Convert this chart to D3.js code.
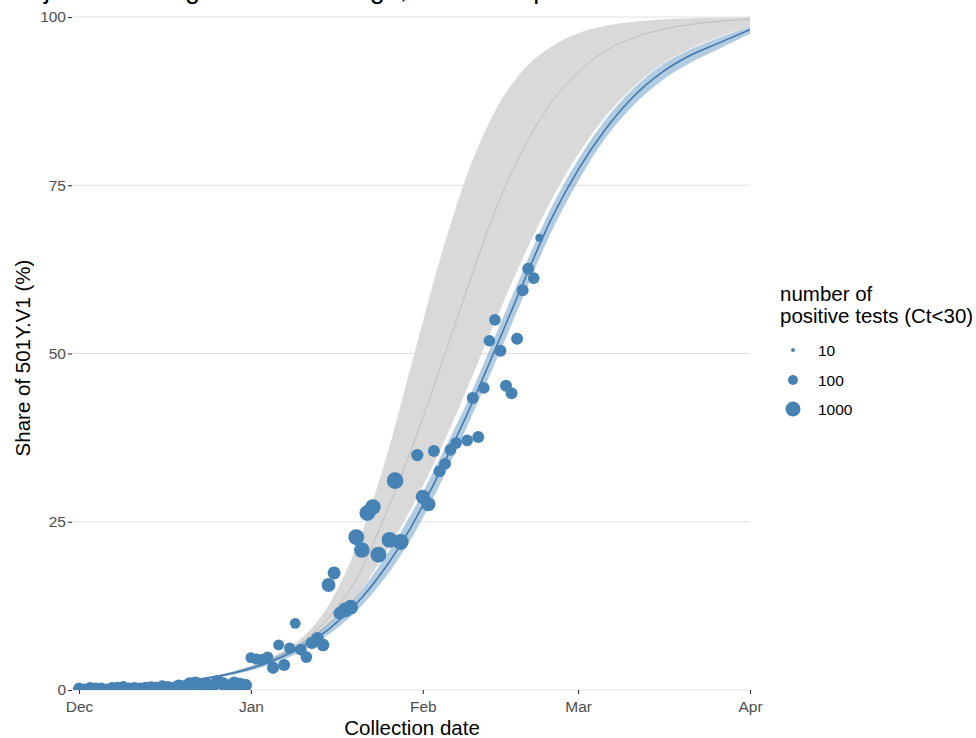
<!DOCTYPE html>
<html><head><meta charset="utf-8">
<script src="https://cdn.jsdelivr.net/npm/d3@7"></script>
<style>
body{margin:0;background:#fff;}
svg{display:block;font-family:"Liberation Sans", Arial, sans-serif;}
</style>
</head><body>
<svg id="chart" width="976" height="738"></svg>
<script>
// ---------- data ----------
const chartTitle = "Projection with growth advantage, based on positive tests with Ct<30";

const curveDates = ["2020-12-01","2020-12-11","2020-12-21","2020-12-31","2021-01-05","2021-01-10","2021-01-15","2021-01-20","2021-01-25","2021-01-30","2021-02-04","2021-02-09","2021-02-14","2021-02-19","2021-02-24","2021-03-01","2021-03-06","2021-03-11","2021-03-16","2021-03-21","2021-03-26","2021-04-01"];
const blueFit = [0.29,0.63,1.38,2.96,4.35,6.3,9.0,12.8,17.9,24.4,32.3,41.0,50.5,60.3,69.7,77.3,83.4,88.2,91.7,94.2,96.0,98.1];
const blueLo  = [0.26,0.57,1.25,2.68,3.95,5.73,8.24,11.7,16.5,22.6,30.4,39.2,48.5,58.2,67.8,75.6,82.1,86.9,90.5,93.1,95.1,97.5];
const blueHi  = [0.32,0.70,1.52,3.26,4.79,6.91,9.88,13.9,19.5,26.3,34.3,42.8,52.5,62.2,71.4,78.8,84.8,89.4,92.8,95.1,96.8,98.6];

const grayDates = ["2020-12-21","2020-12-31","2021-01-05","2021-01-10","2021-01-15","2021-01-20","2021-01-25","2021-01-30","2021-02-04","2021-02-09","2021-02-14","2021-02-19","2021-02-24","2021-03-01","2021-03-06","2021-03-11","2021-03-16","2021-03-21","2021-03-26","2021-04-01"];
const grayFit = [1.4,3.1,4.5,6.9,10.8,16.5,25.5,35.9,47.5,59.6,71.1,80.2,87.1,91.8,95.0,96.9,98.1,98.87,99.32,99.71];
const grayLo  = [1.4,3.0,4.4,6.5,9.6,13.8,20.1,27.1,35.4,44.8,54.7,64.1,72.5,79.6,85.3,89.6,92.9,95.2,96.9,98.6];
const grayHi  = [1.4,3.3,5.0,7.6,12.6,21.2,33.4,48.5,63.7,76.6,86.0,92.0,95.5,97.6,98.7,99.29,99.62,99.80,99.89,99.95];

const pointDates = ["2020-12-01","2020-12-02","2020-12-03","2020-12-04","2020-12-05","2020-12-06","2020-12-07","2020-12-08","2020-12-09","2020-12-10","2020-12-11","2020-12-12","2020-12-13","2020-12-14","2020-12-15","2020-12-16","2020-12-17","2020-12-18","2020-12-19","2020-12-20","2020-12-21","2020-12-22","2020-12-23","2020-12-24","2020-12-25","2020-12-26","2020-12-27","2020-12-28","2020-12-29","2020-12-30","2020-12-31",
"2021-01-01","2021-01-02","2021-01-03","2021-01-04","2021-01-05","2021-01-06","2021-01-07","2021-01-08","2021-01-09","2021-01-10","2021-01-11","2021-01-12","2021-01-13","2021-01-14","2021-01-15","2021-01-16","2021-01-17","2021-01-18","2021-01-19","2021-01-20","2021-01-21","2021-01-22","2021-01-23","2021-01-24","2021-01-26","2021-01-27","2021-01-28","2021-01-31",
"2021-02-01","2021-02-02","2021-02-03","2021-02-04","2021-02-05","2021-02-06","2021-02-07","2021-02-09","2021-02-10","2021-02-11","2021-02-12","2021-02-13","2021-02-14","2021-02-15","2021-02-16","2021-02-17","2021-02-18","2021-02-19","2021-02-20","2021-02-21","2021-02-22"];
const pointShare = [0.2,0.1,0.3,0.2,0.2,0.1,0.3,0.3,0.4,0.2,0.3,0.2,0.3,0.4,0.3,0.5,0.4,0.3,0.6,0.5,0.9,1.0,0.7,0.8,0.5,1.2,0.9,0.6,1.0,0.8,0.7,
4.8,4.6,4.5,4.9,3.3,6.7,3.7,6.2,9.9,6.0,4.9,7.0,7.7,6.7,15.6,17.4,11.4,11.9,12.3,22.7,20.8,26.3,27.2,20.1,22.3,31.1,22.0,34.9,
28.7,27.6,35.5,32.5,33.6,35.7,36.7,37.1,43.4,37.6,44.9,51.9,55.0,50.4,45.2,44.1,52.2,59.4,62.6,61.2,67.2];
const pointTests = [260,220,270,260,280,200,270,280,300,260,270,280,300,270,300,320,350,300,400,360,500,550,450,500,400,600,450,350,500,550,450,
150,170,200,180,280,150,250,190,140,220,220,280,300,350,600,400,300,900,900,1500,1300,1500,1300,1500,1500,2200,1500,300,
700,700,250,250,250,230,220,220,250,250,220,200,220,250,250,250,250,250,230,220,45];

const xTickDates = ["2020-12-01","2021-01-01","2021-02-01","2021-03-01","2021-04-01"];
const xTickLabels = ["Dec","Jan","Feb","Mar","Apr"];
const yTicks = [0,25,50,75,100];
const legendBreaks = [10,100,1000];

// ---------- drawing ----------
const parse = d3.timeParse("%Y-%m-%d");
const svg = d3.select("#chart");
const panel = {left:72, right:750, top:17, bottom:690};

const x = d3.scaleTime().domain([parse("2020-12-01"), parse("2021-04-01")]).range([79, 750]);
const y = d3.scaleLinear().domain([0, 100]).range([690, 17]);
const r = d3.scaleLog().domain(legendBreaks).range([2, 5, 7.5]);

const blue = "#4682b4";

svg.append("defs").append("clipPath").attr("id", "panelClip")
  .append("rect").attr("x", panel.left).attr("y", panel.top - 2)
  .attr("width", panel.right - panel.left).attr("height", panel.bottom - panel.top + 2);

// title (cut off at top edge like the reference)
svg.append("text").attr("x", 2).attr("y", -2).attr("font-size", 27).attr("fill", "#000").text(chartTitle);

// gridlines
svg.append("g").selectAll("line").data(yTicks).join("line")
  .attr("x1", panel.left).attr("x2", panel.right)
  .attr("y1", d => y(d)).attr("y2", d => y(d))
  .attr("stroke", "#e2e2e2").attr("stroke-width", 1.1);

const blueRows = curveDates.map((d, i) => ({date: parse(d), fit: blueFit[i], lo: blueLo[i], hi: blueHi[i]}));
const grayRows = grayDates.map((d, i) => ({date: parse(d), fit: grayFit[i], lo: grayLo[i], hi: grayHi[i]}));

const area = d3.area().x(d => x(d.date)).y0(d => y(d.lo)).y1(d => y(d.hi)).curve(d3.curveMonotoneX);
const line = d3.line().x(d => x(d.date)).y(d => y(d.fit)).curve(d3.curveMonotoneX);

const plot = svg.append("g").attr("clip-path", "url(#panelClip)");
plot.append("path").datum(grayRows).attr("d", area).attr("fill", "#d9d9d9");
plot.append("path").datum(grayRows).attr("d", line).attr("fill", "none").attr("stroke", "#bdbdbd").attr("stroke-width", 1);
plot.append("path").datum(blueRows).attr("d", area).attr("fill", blue).attr("fill-opacity", 0.42);
plot.append("path").datum(blueRows).attr("d", line).attr("fill", "none").attr("stroke", "#3f76ad").attr("stroke-width", 1.5);

// points
const pts = pointDates.map((d, i) => ({date: parse(d), share: pointShare[i], n: pointTests[i]}));
plot.append("g").selectAll("circle").data(pts).join("circle")
  .attr("cx", d => x(d.date)).attr("cy", d => y(d.share)).attr("r", d => r(d.n))
  .attr("fill", blue);

// axes
const yAxis = d3.axisLeft(y).tickValues(yTicks).tickSize(4).tickPadding(2);
const gy = svg.append("g").attr("transform", `translate(${panel.left},0)`).call(yAxis);
gy.select(".domain").remove();
gy.selectAll(".tick line").attr("stroke", "#333").attr("stroke-width", 1.1);
gy.selectAll(".tick text").attr("fill", "#4d4d4d").attr("font-size", 15.5).attr("font-family", "Liberation Sans, Arial, sans-serif");

const xAxis = d3.axisBottom(x).tickValues(xTickDates.map(parse)).tickFormat((d, i) => xTickLabels[i]).tickSize(4).tickPadding(6.5);
const gx = svg.append("g").attr("transform", `translate(0,${panel.bottom})`).call(xAxis);
gx.select(".domain").remove();
gx.selectAll(".tick line").attr("stroke", "#333").attr("stroke-width", 1.1);
gx.selectAll(".tick text").attr("fill", "#4d4d4d").attr("font-size", 15.5).attr("font-family", "Liberation Sans, Arial, sans-serif");

// axis titles
svg.append("text").attr("x", 412).attr("y", 735).attr("text-anchor", "middle")
  .attr("font-size", 20.5).attr("fill", "#000").text("Collection date");
svg.append("text").attr("transform", "translate(30,358) rotate(-90)").attr("text-anchor", "middle")
  .attr("font-size", 20.5).attr("fill", "#000").text("Share of 501Y.V1 (%)");

// legend
const lg = svg.append("g");
lg.append("text").attr("x", 780).attr("y", 301).attr("font-size", 20.5).attr("fill", "#000").text("number of");
lg.append("text").attr("x", 780).attr("y", 323).attr("font-size", 20.5).attr("fill", "#000").text("positive tests (Ct<30)");
const legendY = [350, 380, 409];
legendBreaks.forEach((v, i) => {
  lg.append("circle").attr("cx", 793).attr("cy", legendY[i]).attr("r", r(v)).attr("fill", blue);
  lg.append("text").attr("x", 818).attr("y", legendY[i] + 5.5).attr("font-size", 15.5).attr("fill", "#000").text(v);
});
</script>
</body></html>
